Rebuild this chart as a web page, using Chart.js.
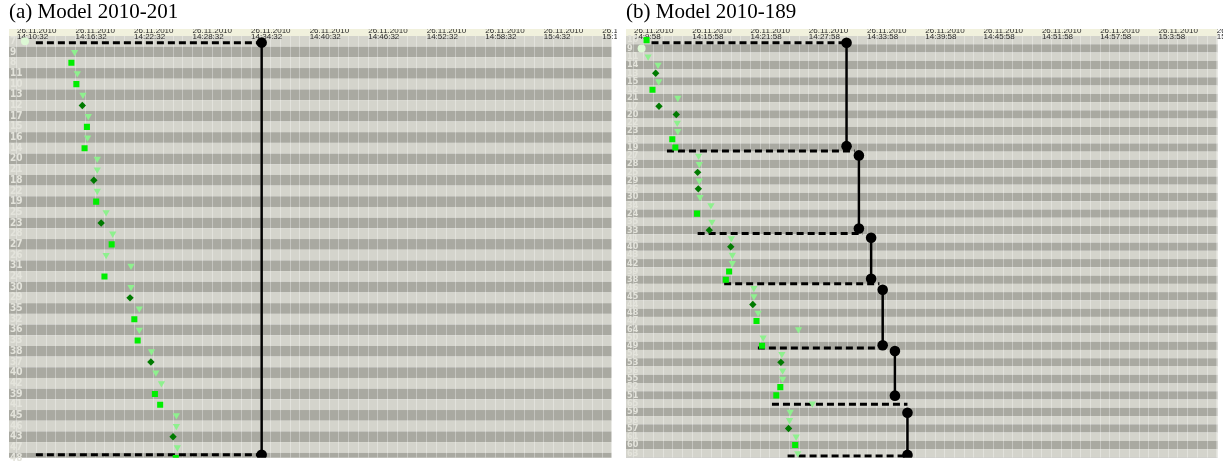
<!DOCTYPE html>
<html>
<head>
<meta charset="utf-8">
<script src="https://cdn.jsdelivr.net/npm/chart.js"></script>
<style>
  html, body { margin: 0; padding: 0; background: #fff; }
  #wrap { position: relative; width: 1223px; height: 463px; overflow: hidden; }
  canvas { position: absolute; top: 0; }
  #chartA { left: 0; }
  #chartB { left: 617px; }
</style>
</head>
<body>
<div id="wrap">
  <canvas id="chartA" width="617" height="463"></canvas>
  <canvas id="chartB" width="606" height="463"></canvas>
</div>
<script>
const dateLabel = '26.11.2010';

// (a) Model 2010-201 -- one marker per row, time in minutes after 14:00:32
const rowsA = ['7','9','8','11','10','13','12','17','15','16','14','20','21','18','22','19','25','23','28','27',
  '26','31','24','30','29','35','32','36','33','38','37','40','42','39','41','45','46','43','47','48'];
const kindsA = ['c','t','s','t','s','t','d','t','s','t','s','t','t','d','t','s','t','d','t','s',
  't','t','s','t','d','t','s','t','s','t','d','t','t','s','s','t','t','d','t','s'];
const timesA = [10.82, 15.91, 15.58, 16.19, 16.09, 16.76, 16.70, 17.31, 17.17, 17.24, 16.93, 18.23, 18.23, 17.88,
  18.23, 18.12, 19.14, 18.63, 19.82, 19.71, 19.14, 21.69, 18.97, 21.69, 21.59, 22.54, 22.03, 22.54, 22.37,
  23.79, 23.73, 24.24, 24.81, 24.14, 24.68, 26.34, 26.34, 26.00, 26.44, 26.28];
// solid steps: [time, fromRow, toRow]; dashed spans: [row, fromTime, toTime]
const stepsA = [[35.08, 0.12, 38.69]];
const dashesA = [[0.12, 11.94, 35.08], [38.69, 11.94, 35.08]];

// (b) Model 2010-189 -- time in minutes after 14:00:58
const rowsB = ['10','9','11','14','13','15','12','21','17','20','22','23','18','19','27','28','25','29','26','30',
  '34','24','35','33','41','40','43','42','39','38','46','45','44','48','47','64','50','49','54','53',
  '56','55','52','51','65','59','58','57','61','60','63'];
const kindsB = ['s','c','t','t','d','t','s','t','d','d','t','t','s','s','t','t','d','t','d','t',
  't','s','t','d','t','d','t','t','s','s','t','t','d','t','s','t','t','s','t','d',
  't','t','s','s','t','t','t','d','t','s','t'];
const timesB = [10.30, 9.79, 10.46, 11.48, 11.24, 11.55, 10.91, 13.52, 11.58, 13.36, 13.46, 13.52, 12.95, 13.26,
  15.66, 15.73, 15.56, 15.73, 15.63, 15.81, 16.93, 15.50, 17.03, 16.76, 19.03, 18.97, 19.13, 19.13, 18.80,
  18.46, 21.35, 21.35, 21.24, 21.79, 21.62, 25.94, 22.30, 22.19, 24.23, 24.13, 24.31, 24.31, 24.07, 23.66,
  27.37, 25.09, 25.02, 24.92, 25.70, 25.60, 25.87];
const stepsB = [[30.89, 0.32, 12.83], [32.16, 13.95, 22.79], [33.42, 23.91, 28.89],
  [34.61, 30.21, 36.93], [35.87, 37.62, 43.03], [37.16, 45.10, 50.2]];
const dashesB = [[0.32, 10.81, 30.89], [13.42, 12.40, 31.72], [23.39, 15.56, 32.57], [29.49, 18.29, 34.27],
  [37.26, 21.76, 35.12], [44.07, 23.21, 37.16], [50.32, 24.82, 37.16]];

const markerStyles = {
  c: { pointStyle: 'circle', rotation: 0, radius: 4, color: '#dcf8d4' },
  s: { pointStyle: 'rect', rotation: 0, radius: 4.3, color: '#00ee00' },
  d: { pointStyle: 'rectRot', rotation: 0, radius: 3.7, color: '#007a00' },
  t: { pointStyle: 'triangle', rotation: 180, radius: 4.2, color: '#8ef08e' }
};

// alternating row bands + cream header band behind the time axis
const stripes = {
  id: 'stripes',
  afterLayout(chart) {
    // let the two-line time labels spill into the first row (label clip uses the axis box)
    chart.scales.x.bottom += 10;
  },
  beforeDraw(chart) {
    const { ctx, chartArea: a, scales: { x, y } } = chart;
    ctx.save();
    ctx.fillStyle = '#f1f1dd';
    ctx.fillRect(x.left, x.top, x.width, x.height);
    ctx.beginPath();
    ctx.rect(a.left, a.top, a.width, a.height);
    ctx.clip();
    const n = Math.ceil(y.max + 1);
    for (let i = 0; i < n; i++) {
      const y1 = y.getPixelForValue(i - 0.5);
      const y2 = y.getPixelForValue(i + 0.5);
      ctx.fillStyle = i % 2 ? '#a9a9a1' : '#d4d4cc';
      ctx.fillRect(a.left, y1, a.width, y2 - y1);
    }
    ctx.restore();
  }
};

function clock(baseMin, sec, v) {
  const total = baseMin + v;
  return Math.floor(total / 60) + ':' + (total % 60) + ':' + sec;
}

function buildPanel(id, title, rows, kinds, times, steps, dashes, opt) {
  const datasets = [];
  ['c', 's', 'd', 't'].forEach(k => {
    const st = markerStyles[k];
    datasets.push({
      data: times.map((t, i) => ({ x: t, y: i })).filter((p, i) => kinds[i] === k),
      pointStyle: st.pointStyle,
      rotation: st.rotation,
      pointRadius: st.radius,
      backgroundColor: st.color,
      borderWidth: 0
    });
  });
  steps.forEach(([t, y1, y2]) => datasets.push({
    type: 'line',
    data: [{ x: t, y: y1 }, { x: t, y: y2 }],
    showLine: true,
    borderColor: '#000',
    borderWidth: 2.5,
    pointRadius: 5.3,
    pointBackgroundColor: '#000',
    pointBorderWidth: 0
  }));
  dashes.forEach(([y, t1, t2]) => datasets.push({
    type: 'line',
    data: [{ x: t1, y: y }, { x: t2, y: y }],
    showLine: true,
    borderColor: '#000',
    borderWidth: 3,
    borderDash: [7, 4],
    pointRadius: 0
  }));

  new Chart(document.getElementById(id), {
    type: 'scatter',
    data: { datasets },
    plugins: [stripes],
    options: {
      responsive: false,
      animation: false,
      layout: { padding: opt.padding },
      plugins: {
        legend: { display: false },
        tooltip: { enabled: false },
        title: {
          display: true,
          text: title,
          align: 'start',
          color: '#000',
          font: { family: "'Liberation Serif', 'Times New Roman', serif", size: 21, weight: 'normal' },
          padding: { top: 0, bottom: 3.8 }
        }
      },
      scales: {
        x: {
          type: 'linear',
          position: 'top',
          min: opt.xMin,
          max: opt.xMax,
          afterBuildTicks: s => {
            s.ticks = [];
            for (let v = Math.ceil(s.min); v <= s.max; v++) s.ticks.push({ value: v });
          },
          afterFit: s => { s.height = 7; s.paddingLeft = 0; s.paddingRight = 0; },
          ticks: {
            autoSkip: false,
            maxRotation: 0,
            align: 'start',
            padding: 6.5,
            color: '#2a2a2a',
            font: { family: "'Liberation Sans', Arial, sans-serif", size: 8, lineHeight: 0.75 },
            callback: v => (v - opt.firstLabel) % 6 === 0 ? [dateLabel, clock(opt.baseMin, opt.sec, v)] : ''
          },
          grid: { color: 'rgba(255,255,255,0.32)', lineWidth: 1, drawTicks: false },
          border: { display: false }
        },
        y: {
          type: 'linear',
          reverse: true,
          min: -0.5,
          max: opt.yMax,
          afterBuildTicks: s => { s.ticks = rows.map((_, i) => ({ value: i })); },
          afterFit: s => { s.width = 0; s.paddingTop = 0; s.paddingBottom = 0; },
          ticks: {
            mirror: true,
            autoSkip: false,
            padding: 1,
            color: '#e4e4dc',
            font: { family: "'Liberation Sans Narrow', 'DejaVu Sans Condensed', 'Arial Narrow', sans-serif",
                    size: opt.rowFont, weight: 'bold', lineHeight: 1 },
            callback: v => rows[v] ?? ''
          },
          grid: { display: false },
          border: { display: false }
        }
      }
    }
  });
}

buildPanel('chartA', '(a) Model 2010-201', rowsA, kindsA, timesA, stepsA, dashesA, {
  padding: { left: 9, right: 2, top: 0, bottom: 0 },
  xMin: 9.1845, xMax: 70.96, yMax: 38.96, firstLabel: 10, baseMin: 14 * 60, sec: '32', rowFont: 10
});
buildPanel('chartB', '(b) Model 2010-189', rowsB, kindsB, timesB, stepsB, dashesB, {
  padding: { left: 9, right: 0, top: 0, bottom: 0 },
  xMin: 8.184, xMax: 69.1, yMax: 50.54, firstLabel: 9, baseMin: 14 * 60, sec: '58', rowFont: 9
});
</script>
</body>
</html>
